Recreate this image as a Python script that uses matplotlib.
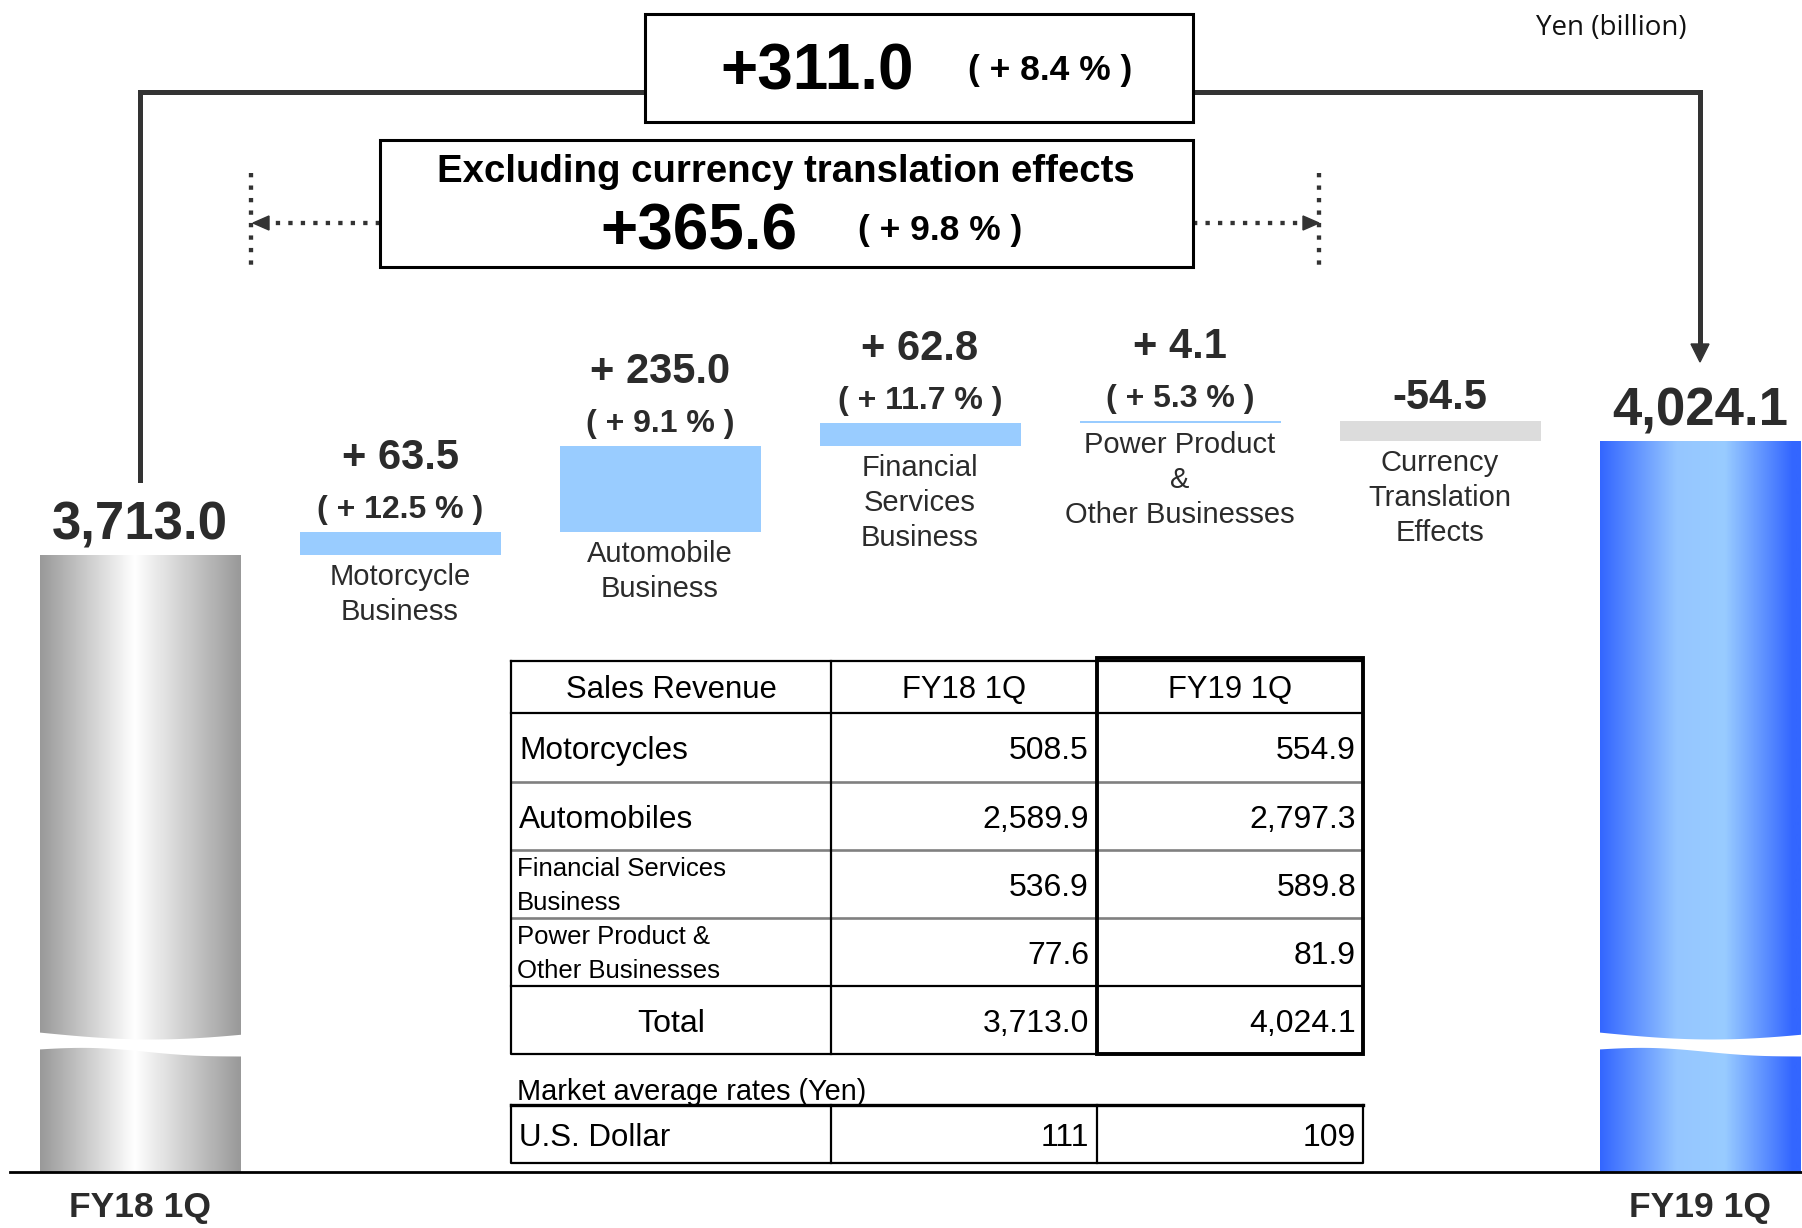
import matplotlib.pyplot as plt
import numpy as np
from matplotlib.colors import LinearSegmentedColormap
from matplotlib.patches import Rectangle, Polygon

plt.rcParams['font.family'] = ['Liberation Sans', 'DejaVu Sans']

# sales revenue bridge, Yen (billion)
start_label, end_label = "FY18 1Q", "FY19 1Q"
start_total = 3713.0
end_total = 4024.1
segments = ["Motorcycle\nBusiness", "Automobile\nBusiness", "Financial\nServices\nBusiness",
            "Power Product\n&\nOther Businesses", "Currency\nTranslation\nEffects"]
changes = [63.5, 235.0, 62.8, 4.1, -54.5]
change_pct = [12.5, 9.1, 11.7, 5.3, None]
total_change, total_change_pct = 311.0, 8.4
exfx_change, exfx_change_pct = 365.6, 9.8

# table under the bridge
tbl_cols = ["Sales Revenue", "FY18 1Q", "FY19 1Q"]
tbl_rows = ["Motorcycles", "Automobiles", "Financial Services\nBusiness",
            "Power Product &\nOther Businesses", "Total"]
sales_fy18 = [508.5, 2589.9, 536.9, 77.6, 3713.0]
sales_fy19 = [554.9, 2797.3, 589.8, 81.9, 4024.1]
rate_title = "Market average rates (Yen)"
rate_row = "U.S. Dollar"
rate_fy18, rate_fy19 = 111, 109

W, H, DPI = 1802, 1228, 100
BASE = 1172          # pixel row of the baseline
PX_PER_UNIT = 0.366  # bars are broken, so only the top part is to scale
DARK = '#2b2b2b'

fig = plt.figure(figsize=(W / DPI, H / DPI), dpi=DPI)

# bar axes: x in pixels, y in Yen (billion), cut off at the bottom
ax = fig.add_axes([0, (H - BASE) / H, 1, (BASE - 300) / H])
ymin = start_total - (BASE - 555) / PX_PER_UNIT
ylim = (ymin, ymin + (BASE - 300) / PX_PER_UNIT)

# overlay in pixel coords for boxes, connectors and the table
ov = fig.add_axes([0, 0, 1, 1], zorder=2)
ov.set_xlim(0, W)
ov.set_ylim(H, 0)
ov.axis('off')

xs = 140 + 260 * np.arange(7)
bw = 201

# waterfall steps
cum = start_total + np.concatenate([[0], np.cumsum(changes)])
bottoms = cum[:-1]
colors = ['#99ccff' if c > 0 else '#dcdcdc' for c in changes]
ax.bar(xs[1:6], changes, bottom=bottoms, width=bw, color=colors, linewidth=0)

# the two totals, with a horizontal gradient
tot = ax.bar([xs[0], xs[6]], [start_total, end_total], width=bw, color='none', linewidth=0)
grey = LinearSegmentedColormap.from_list('grey', [(0, '#999999'), (0.47, '#ffffff'), (1, '#999999')])
blue = LinearSegmentedColormap.from_list('blue', [(0, '#3366ff'), (0.38, '#95c6ff'), (0.62, '#99ccff'),
                                                  (0.96, '#3366ff'), (1, '#3366ff')])
grad = np.linspace(0, 1, 256)[None, :]
for p, cmap in zip(tot.patches, [grey, blue]):
    x0, w, h = p.get_x(), p.get_width(), p.get_height()
    ax.imshow(grad, cmap=cmap, extent=(x0, x0 + w, ylim[0], h), aspect='auto',
              interpolation='bilinear')

ax.set_xlim(0, W)
ax.set_ylim(*ylim)
ax.axis('off')

# labels on the steps
for i, (x, c) in enumerate(zip(xs[1:6], changes)):
    top = max(bottoms[i], bottoms[i] + c)
    low = min(bottoms[i], bottoms[i] + c)
    pct = change_pct[i]
    if pct is None:
        ax.annotate(f"{c:.1f}", (x, top), xytext=(0, 12), textcoords='offset pixels',
                    ha='center', va='baseline', fontsize=30, weight='bold', color=DARK)
    else:
        ax.annotate(f"+ {c:.1f}", (x, top), xytext=(0, 63), textcoords='offset pixels',
                    ha='center', va='baseline', fontsize=30, weight='bold', color=DARK)
        ax.annotate(f"( + {pct:.1f} % )", (x, top), xytext=(0, 14), textcoords='offset pixels',
                    ha='center', va='baseline', fontsize=23, weight='bold', color=DARK)
    for k, line in enumerate(segments[i].split('\n')):
        ax.annotate(line, (x, low), xytext=(0, -30 - 35 * k), textcoords='offset pixels',
                    ha='center', va='baseline', fontsize=21, color=DARK)

for x, v in [(xs[0], start_total), (xs[6], end_total)]:
    ax.annotate(f"{v:,.1f}", (x, v), xytext=(0, 16), textcoords='offset pixels',
                ha='center', va='baseline', fontsize=38, weight='bold', color=DARK)

# break marks across the tall bars
t = np.linspace(0, 1, 80)
wave_top = 1032 + 7 * np.sin(0.9 * np.pi * t)
wave_bot = 1049 - 2 * np.sin(2 * np.pi * t) + 7 * t ** 2
for xc in (xs[0], xs[6]):
    ov.fill_between(xc - bw / 2 - 1 + t * (bw + 2), wave_top, wave_bot, color='white', lw=0)

# baseline and period labels
ov.plot([10, W], [BASE, BASE], color='black', lw=2)
ov.text(xs[0], 1217, start_label, ha='center', va='baseline', fontsize=25.5, weight='bold', color=DARK)
ov.text(xs[6], 1217, end_label, ha='center', va='baseline', fontsize=25.5, weight='bold', color=DARK)

# bracket from FY18 to FY19
ov.plot([xs[0], xs[0], xs[6], xs[6]], [480, 92, 92, 346], color='#333333', lw=3.6,
        solid_joinstyle='miter', zorder=1)
ov.add_patch(Polygon([[xs[6] - 9, 344], [xs[6] + 9, 344], [xs[6], 362]], color='#333333'))

ov.add_patch(Rectangle((645, 14), 548, 108, facecolor='white', edgecolor='black', lw=2.2, zorder=3))
ov.text(817, 90, f"+{total_change:.1f}", ha='center', va='baseline', fontsize=46,
        weight='bold', zorder=4)
ov.text(1050, 80, f"( + {total_change_pct:.1f} % )", ha='center', va='baseline', fontsize=25.5,
        weight='bold', zorder=4)

# excluding currency box with dotted arrows
dots = dict(color='#333333', lw=3.1, linestyle=(0, (1, 1.9)), dash_capstyle='butt', zorder=1)
ov.plot([380, 262], [223, 223], **dots)
ov.plot([251, 251], [173, 272], **dots)
ov.add_patch(Polygon([[253, 223], [269, 216], [269, 230]], color='#333333'))
ov.plot([1193, 1306], [223, 223], **dots)
ov.plot([1319, 1319], [173, 272], **dots)
ov.add_patch(Polygon([[1319, 223], [1303, 216], [1303, 230]], color='#333333'))

ov.add_patch(Rectangle((380, 140), 813, 127, facecolor='white', edgecolor='black', lw=2.2, zorder=3))
ov.text(786, 182, "Excluding currency translation effects", ha='center', va='baseline',
        fontsize=27.6, weight='bold', zorder=4)
ov.text(699, 250, f"+{exfx_change:.1f}", ha='center', va='baseline', fontsize=46,
        weight='bold', zorder=4)
ov.text(940, 240, f"( + {exfx_change_pct:.1f} % )", ha='center', va='baseline', fontsize=25.5,
        weight='bold', zorder=4)

ov.text(1611, 35, "Yen (billion)", ha='center', va='baseline', fontsize=20,
        family=['Open Sans', 'DejaVu Sans'], color='#111111')

# sales revenue table
col_x = [511, 831, 1097, 1363]
row_y = [661, 713, 782, 850, 918, 986, 1054]
line = dict(color='black', lw=1.6, solid_capstyle='projecting')
for y in row_y[2:5]:
    ov.plot([col_x[0], col_x[3]], [y, y], color='#808080', lw=1.9)
ov.plot([511, 1363, 1363, 511, 511], [661, 661, 1054, 1054, 661], **line)
ov.plot([511, 1363], [row_y[1], row_y[1]], **line)
ov.plot([511, 1363], [row_y[5], row_y[5]], **line)
ov.plot([col_x[1], col_x[1]], [661, 1054], **line)
ov.add_patch(Rectangle((col_x[2], 658), col_x[3] - col_x[2], 1054 - 658, fill=False,
                       edgecolor='black', lw=2.8, zorder=3))

hdr_x = [(col_x[j] + col_x[j + 1]) / 2 for j in range(3)]
for x, s in zip(hdr_x, tbl_cols):
    ov.text(x, (row_y[0] + row_y[1]) / 2, s, ha='center', va='center_baseline', fontsize=22.3)
for i, (name, a, b) in enumerate(zip(tbl_rows, sales_fy18, sales_fy19)):
    yc = (row_y[i + 1] + row_y[i + 2]) / 2
    parts = name.split('\n')
    if name == "Total":
        ov.text(hdr_x[0], yc, name, ha='center', va='center_baseline', fontsize=23)
    elif len(parts) == 1:
        ov.text(519, yc, name, ha='left', va='center_baseline', fontsize=22.8)
    else:
        for k, s in enumerate(parts):
            ov.text(517, yc - 18 + 34 * k, s, ha='left', va='center_baseline', fontsize=18.5)
    ov.text(col_x[2] - 8, yc, f"{a:,.1f}", ha='right', va='center_baseline', fontsize=23)
    ov.text(col_x[3] - 7, yc, f"{b:,.1f}", ha='right', va='center_baseline', fontsize=23)

# exchange rate table
ov.text(517, 1089, rate_title, ha='left', va='center_baseline', fontsize=20.8)
ov.plot([511, 511, 1363, 1363], [1105, 1163, 1163, 1105], **line)
ov.plot([511, 1363], [1105, 1105], color='black', lw=2.4)
ov.plot([col_x[1], col_x[1]], [1105, 1163], **line)
ov.plot([col_x[2], col_x[2]], [1105, 1163], **line)
ov.text(519, 1134, rate_row, ha='left', va='center_baseline', fontsize=22.5)
ov.text(col_x[2] - 8, 1134, f"{rate_fy18}", ha='right', va='center_baseline', fontsize=23)
ov.text(col_x[3] - 7, 1134, f"{rate_fy19}", ha='right', va='center_baseline', fontsize=23)

fig.savefig('out.png', dpi=DPI)
